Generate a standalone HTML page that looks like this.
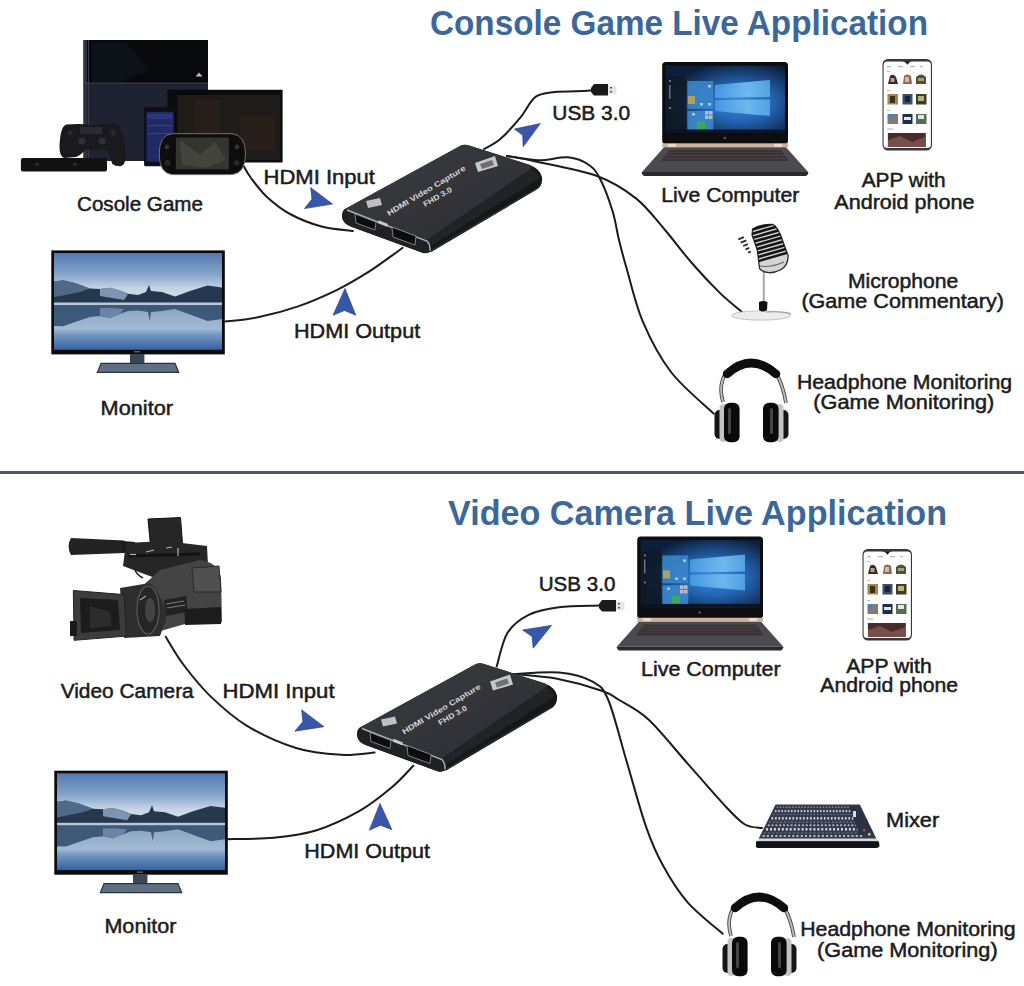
<!DOCTYPE html>
<html><head><meta charset="utf-8">
<style>
html,body{margin:0;padding:0;background:#fff;}
body{width:1024px;height:986px;overflow:hidden;}
svg{display:block;}
text{font-family:"Liberation Sans",sans-serif;}
.t{font-size:35.5px;font-weight:bold;fill:#3b679b;}
.l text{font-size:20px;fill:#1c1c1c;stroke:#1c1c1c;stroke-width:0.5px;}
.cab{fill:none;stroke:#1c1c1c;stroke-width:2;stroke-linecap:round;}
.arr{fill:#3857ab;stroke:#2c3f8c;stroke-width:0.7px;stroke-linejoin:round;}
</style></head><body>
<svg width="1024" height="986" viewBox="0 0 1024 986">
<defs>
<linearGradient id="sky" x1="0" y1="0" x2="0" y2="1">
 <stop offset="0" stop-color="#5279b0"/><stop offset="0.45" stop-color="#88a6cc"/><stop offset="0.7" stop-color="#c4d3e4"/><stop offset="1" stop-color="#dfe3ea"/>
</linearGradient>
<linearGradient id="water" x1="0" y1="0" x2="0" y2="1">
 <stop offset="0" stop-color="#b4c6da"/><stop offset="0.1" stop-color="#8aa4c2"/><stop offset="0.55" stop-color="#a2bad4"/><stop offset="0.7" stop-color="#6f94bf"/><stop offset="1" stop-color="#3562a0"/>
</linearGradient>
<radialGradient id="win" cx="0.62" cy="0.55" r="0.62">
 <stop offset="0" stop-color="#3c8ee0"/><stop offset="0.45" stop-color="#2363b0"/><stop offset="1" stop-color="#0c1e3a"/>
</radialGradient>
<linearGradient id="logo" x1="0" y1="0" x2="1" y2="0">
 <stop offset="0" stop-color="#4aa0e8"/><stop offset="0.6" stop-color="#7cc4f6"/><stop offset="1" stop-color="#5aaeee"/>
</linearGradient>
<linearGradient id="cardtop" x1="0" y1="0" x2="1" y2="1">
 <stop offset="0" stop-color="#3c3d42"/><stop offset="1" stop-color="#2c2d31"/>
</linearGradient>
</defs>
<rect width="1024" height="986" fill="#fff"/>
<!-- cables -->
<path class="cab" d="M243.4,165.6 C244.7,167.7 247.1,172.8 251.0,178.0 C254.9,183.2 260.5,191.0 267.0,197.0 C273.5,203.0 280.9,209.1 290.0,214.0 C299.1,218.9 311.0,223.7 321.5,226.5 C332.0,229.3 347.6,230.2 352.8,231.0"/>
<path class="cab" d="M224.9,321.6 C230.6,320.9 246.8,319.6 259.0,317.1 C271.2,314.6 285.1,310.9 298.1,306.4 C311.1,301.8 325.8,295.3 337.2,289.8 C348.6,284.3 357.4,278.9 366.5,273.2 C375.6,267.5 385.9,259.8 391.9,255.6 C397.9,251.4 400.8,249.1 402.6,247.8"/>
<path class="cab" d="M484.0,149.0 C486.7,147.4 493.9,144.6 500.0,139.3 C506.1,134.0 514.6,124.5 520.5,117.4 C526.4,110.3 529.8,101.1 535.5,96.9 C541.2,92.7 546.0,93.0 554.7,92.0 C563.4,91.0 581.3,91.3 587.5,90.8 C593.7,90.3 591.2,89.3 592.0,89.0"/>
<path class="cab" d="M507.0,156.0 C512.3,156.7 528.4,160.1 538.6,160.3 C548.8,160.5 559.5,156.5 568.0,157.3 C576.5,158.1 583.9,161.3 589.4,165.2 C594.9,169.1 597.1,173.0 601.0,180.8 C604.9,188.6 609.8,202.1 612.8,212.0 C615.8,221.9 616.7,230.7 619.0,240.0 C621.3,249.3 622.5,254.4 626.5,268.0 C630.5,281.6 635.3,304.0 642.7,321.3 C650.1,338.6 659.2,356.6 671.0,372.0 C682.8,387.4 706.6,406.7 713.7,413.6"/>
<path class="cab" d="M507.0,156.0 C511.6,156.9 519.7,157.9 534.7,161.2 C549.7,164.6 580.1,169.8 597.0,176.0 C613.9,182.2 624.7,189.4 636.0,198.4 C647.3,207.4 655.8,219.3 665.0,230.0 C674.2,240.7 682.3,252.0 691.4,262.5 C700.5,273.0 711.4,284.6 719.8,292.9 C728.2,301.1 738.3,308.8 742.0,312.0"/>
<path class="cab" d="M165.7,636.8 C168.7,641.5 176.2,655.1 183.7,665.0 C191.2,674.9 200.1,686.3 210.6,696.4 C221.1,706.5 232.4,717.0 246.6,725.6 C260.8,734.2 280.3,743.1 296.0,748.0 C311.7,752.9 327.9,754.0 341.0,754.8 C354.1,755.5 369.0,752.9 374.6,752.5"/>
<path class="cab" d="M226.4,839.2 C234.3,839.0 258.6,839.2 273.7,837.7 C288.8,836.2 302.4,834.7 316.7,830.2 C331.0,825.7 347.1,818.0 359.6,810.9 C372.1,803.8 382.9,794.8 391.9,787.3 C400.8,779.8 409.7,769.4 413.3,765.8"/>
<path class="cab" d="M496.7,666.5 C498.5,660.9 502.1,641.6 507.4,633.0 C512.7,624.4 520.1,619.1 528.7,614.8 C537.3,610.5 547.3,608.7 559.0,607.2 C570.7,605.7 592.3,605.9 599.0,605.6"/>
<path class="cab" d="M513.5,674.0 C521.1,673.8 545.8,671.3 559.0,672.6 C572.2,673.9 584.4,677.1 592.6,681.7 C600.8,686.3 602.6,686.8 608.3,700.0 C613.9,713.2 620.2,739.8 626.5,760.9 C632.8,782.0 639.9,809.1 646.0,826.6 C652.1,844.1 656.1,853.0 663.0,865.6 C669.9,878.2 677.4,890.7 687.4,902.1 C697.4,913.5 716.8,928.5 722.7,933.8"/>
<path class="cab" d="M513.5,674.0 C520.6,674.8 541.3,675.8 556.0,678.6 C570.7,681.4 591.2,687.2 601.7,690.8 C612.2,694.4 611.4,695.2 619.2,700.0 C627.0,704.8 637.1,709.0 648.5,719.5 C659.9,730.0 674.4,748.7 687.4,763.3 C700.4,777.9 716.8,797.0 726.4,807.2 C736.0,817.4 739.1,821.0 745.0,824.5 C750.9,828.0 759.2,827.4 762.0,828.0"/>
<!-- arrows -->
<path class="arr" d="M332.5,204.0 L310.6,187.5 L312.0,199.1 L304.4,208.6 Z"/>
<path class="arr" d="M345.0,288.5 L333.0,315.3 L344.5,310.5 L355.8,315.3 Z"/>
<path class="arr" d="M540.3,123.6 L514.4,129.0 L522.7,135.3 L523.2,146.8 Z"/>
<path class="arr" d="M324.0,726.7 L301.6,709.8 L302.9,721.6 L294.9,731.2 Z"/>
<path class="arr" d="M380.0,803.4 L369.3,830.2 L380.5,825.2 L391.9,829.8 Z"/>
<path class="arr" d="M551.5,625.4 L522.6,630.0 L532.1,636.6 L533.2,648.2 Z"/>
<!-- usb plugs -->
<g id="usb"><path d="M591,88 L594,84 L608,84 L608,95.5 L594,95.5 L591,92 Z" fill="#1a1a1a"/>
<rect x="608" y="85.5" width="8.5" height="8.5" fill="#e6e6e6"/><rect x="610" y="87" width="2" height="1.5" fill="#555"/><rect x="610" y="91" width="2" height="1.5" fill="#555"/></g>
<use href="#usb" transform="translate(8,516)"/>
<g id="consoles">
 <!-- PS4 -->
 <rect x="83.5" y="40" width="124.5" height="44" fill="#08090c"/>
 <path d="M92,42 L125,42 L150,70 L120,82 L92,82 Z" fill="#142024" opacity="0.45"/>
 <rect x="83.5" y="83" width="124.5" height="78" fill="#1f2230"/>
 <rect x="83.5" y="40" width="3.5" height="121" fill="#2e323c"/>
 <rect x="88" y="40" width="1" height="121" fill="#3c404a"/>
 <rect x="83.5" y="82.5" width="124.5" height="1.2" fill="#3a3e4a"/>
 <path d="M195.5,76.5 L202.5,76.5 L199,72.5 Z" fill="#bbb"/>
 <!-- tablet -->
 <rect x="167.5" y="89.8" width="115.1" height="72.7" fill="#0b0b0d"/>
 <rect x="177.4" y="95.1" width="102.9" height="65.1" fill="#1f1b19"/>
 <rect x="195" y="100" width="25" height="55" fill="#28211d" opacity="0.8"/>
 <rect x="240" y="115" width="35" height="35" fill="#2a201c" opacity="0.8"/>
 <!-- blue phone -->
 <rect x="144.1" y="107.2" width="31" height="59.1" rx="1.5" fill="#0e0e16"/>
 <rect x="146.4" y="111.8" width="27.2" height="49.9" fill="#222a66"/>
 <rect x="147.4" y="114" width="25" height="5" fill="#354096" opacity="0.5"/>
 <rect x="147.4" y="125" width="25" height="1" fill="#4a56b0" opacity="0.5"/>
 <rect x="147.4" y="133" width="25" height="1" fill="#4a56b0" opacity="0.5"/>
 <!-- Vita -->
 <path d="M172,133.7 L232,133.7 Q245.5,135 245.5,154 Q245.5,173 232,174.6 L172,174.6 Q159.2,173 159.2,154 Q159.2,135 172,133.7 Z" fill="#0d0d0e" stroke="#707072" stroke-width="1"/>
 <rect x="175.9" y="137.5" width="53" height="31.8" fill="#34352f"/>
 <path d="M180,140 L200,155 L215,142 L226,160 L205,168 L182,165 Z" fill="#4e4e44" opacity="0.6"/>
 <circle cx="167" cy="147" r="2.4" fill="#333"/>
 <circle cx="237" cy="147" r="2.4" fill="#333"/>
 <circle cx="167.5" cy="163" r="3" fill="#262626"/>
 <circle cx="236.5" cy="163" r="3" fill="#262626"/>
 <!-- controller -->
 <path d="M66.6,124.6 Q80,123 92.3,125.2 Q104,123 115.8,123.5 Q119.5,125 120.5,128.8 Q125,140 125.7,154.5 Q126,165 120.5,166.3 Q115,166 112.3,163.9 L107.6,149.8 L85.3,149.8 Q80,156 75.9,156.9 L64.2,158 Q59,156 59.5,145.2 Q60,135 61.9,130 Q63,126 66.6,124.6 Z" fill="#1a1a1e"/>
 <rect x="80" y="127" width="22" height="7" rx="1" fill="#2a2a30"/>
 <circle cx="82" cy="141" r="3.4" fill="#303036"/>
 <circle cx="102" cy="141" r="3.4" fill="#303036"/>
 <circle cx="70" cy="133" r="2.5" fill="#2a2a30"/>
 <circle cx="113" cy="133" r="2.5" fill="#2a2a30"/>
 <!-- camera bar -->
 <rect x="20.9" y="158" width="86.1" height="13.5" rx="2" fill="#111113"/>
 <circle cx="37" cy="164.5" r="2" fill="#2a2a2e"/><circle cx="75" cy="164.5" r="2" fill="#2a2a2e"/>
</g>
<g id="mon">
 <rect x="51.3" y="250.4" width="173.5" height="104" fill="#0b0b0e"/>
 <rect x="54" y="253" width="168" height="50" fill="url(#sky)"/>
 <rect x="54" y="302.5" width="168" height="47.3" fill="url(#water)"/>
 <!-- mountains -->
 <path d="M54,281.5 L63,280.2 L75,283 L90,288.4 L100,289 L110,287.8 L120,290.5 L128,293.8 L138,295 L146,292 L149,285 L151,291 L162,292 L175,296.5 L190,291 L207.6,285.6 L222,287.5 L222,303 L54,303 Z" fill="#26384f"/>
 <path d="M54,281.5 L63,280.2 L75,283 L90,288.4 L80,292 L60,296 L54,297 Z" fill="#5d7696" opacity="0.8"/>
 <path d="M100,289 L110,287.8 L120,290.5 L128,294 L124,300 L112,298 L100,296 Z" fill="#8ea6c2" opacity="0.85"/>
 <rect x="54" y="302.5" width="168" height="2.6" fill="#b8c8da"/>
 <!-- reflection -->
 <path d="M54,305 L222,305 L222,319 L207.6,320.9 L190,314.5 L175,309 L162,311 L151,312 L149.8,321 L148,312 L138,310.5 L128,311 L120,314 L110,318 L100,316 L90,317 L75,322 L63,326.3 L54,326 Z" fill="#33506f" opacity="0.9"/>
 <path d="M100,308 L112,308 L124,309 L120,314 L110,318 L100,316 Z" fill="#7690b0" opacity="0.8"/>
 <!-- stand -->
 <rect x="130" y="354" width="14.4" height="10" fill="#3a4654"/>
 <path d="M101,363.3 L175,363.3 L178.7,372.4 L97.4,372.4 Z" fill="#5d6f80" stroke="#2a3440" stroke-width="1.2"/>
 <rect x="134" y="351.3" width="6" height="1" fill="#888"/>
</g>
<use href="#mon" transform="translate(3,520.3)"/>
<g id="card">
 <!-- body / side face -->
 <path d="M345,209 L461,145.5 Q465,144 469,145.5 L530,165 Q540,169 542,177 Q543,186 536,190 L432,251.5 Q426,254 421,252 L352,227 Q343,224 342,217 Q342,211 345,209 Z" fill="#161719"/>
 <!-- top face -->
 <path d="M345,209 L461,145.5 Q465,144 469,145.5 L530,165 Q534,167 531,169 L427,240 Z" fill="url(#cardtop)"/>
 <!-- rounded side shading -->
 <path d="M427,240 L531,169 Q538,172 540,178 L431,246 Z" fill="#222327"/>
 <path d="M432,250 L536,189" stroke="#2e2f33" stroke-width="1.2"/>
 <!-- front face -->
 <path d="M345,209 L427,240 Q431,244 430,251 Q428,254 423,253 L352,227 Q343,224 342,217 Q342,211 345,209 Z" fill="#202124"/>
 <!-- silver rim -->
 <path d="M347,210 L427,241 Q430.5,245 430,251" fill="none" stroke="#b0b2b6" stroke-width="1.4"/>
 <!-- ports -->
 <path d="M355,214 L376,222 L375,230 L356,223 Z" fill="#0c0c0d" stroke="#8a8c90" stroke-width="0.9"/>
 <path d="M392,227 L416,236 L415,245 L393,237 Z" fill="#0c0c0d" stroke="#8a8c90" stroke-width="0.9"/>
 <rect x="378" y="222" width="10" height="3" fill="#c8c8c8" transform="rotate(22 383 223)"/>
 <!-- logos/text on top -->
 <path d="M366,201 L380,198 L382,205 L368,208 Z" fill="#d8d8d8" opacity="0.85"/>
 <path d="M475,163 L495,156 L498,166 L478,172 Z" fill="#e0e0e0" opacity="0.85"/>
 <path d="M480,164 L492,160 L494,165 L482,169 Z" fill="#333" opacity="0.6"/>
 <text x="389" y="216" transform="rotate(-31 389 216)" font-size="7.5" font-weight="bold" fill="#d6d6d6" textLength="90" lengthAdjust="spacingAndGlyphs" style="font-family:'Liberation Sans',sans-serif">HDMI Video Capture</text>
 <text x="425" y="207" transform="rotate(-30 425 207)" font-size="7.5" font-weight="bold" fill="#d6d6d6" textLength="32" lengthAdjust="spacingAndGlyphs" style="font-family:'Liberation Sans',sans-serif">FHD 3.0</text>
</g>
<use href="#card" transform="translate(15,518.5)"/>
<g id="lap">
 <rect x="662.2" y="62" width="125.8" height="82" rx="3.5" fill="#0d0d10"/>
 <rect x="665.7" y="65.7" width="119.3" height="67.3" fill="url(#win)"/>
 <rect x="667" y="76.5" width="19.7" height="53" fill="#111a26" opacity="0.85"/>
 <g fill="#8a9ab0" opacity="0.7"><rect x="669" y="80" width="2" height="2"/><rect x="669" y="85" width="1.5" height="14"/><rect x="669" y="107" width="2" height="2"/></g>
 <rect x="687.3" y="81" width="26" height="27.9" fill="#3a86c8" opacity="0.9"/>
 <rect x="687.3" y="110.8" width="26" height="19" fill="#3c88cc" opacity="0.9"/>
 <rect x="696.8" y="121" width="8.2" height="8.2" fill="#3aa860"/>
 <rect x="688" y="96" width="7" height="8" fill="#b0a060"/>
 <g fill="#e0c8d0" opacity="0.8"><rect x="705" y="111" width="3.5" height="3.5"/><rect x="709" y="111" width="3.5" height="3.5"/><rect x="705" y="115.5" width="3.5" height="3.5"/><rect x="709" y="115.5" width="3.5" height="3.5"/></g>
 <g fill="#cfe6ff" opacity="0.7"><rect x="708" y="85" width="3" height="2.5"/><rect x="700" y="103" width="3" height="2.5"/><rect x="708" y="103" width="3" height="2.5"/><rect x="692" y="113" width="3" height="2.5"/></g>
 <path d="M715,85 L770,80 L770,97 L715,98 Z" fill="url(#logo)" opacity="0.85"/>
 <path d="M715,100 L770,99.5 L770,116 L715,111 Z" fill="url(#logo)" opacity="0.8"/>
 <rect x="665.7" y="129.5" width="119.3" height="3.5" fill="#0a1424"/>
 <rect x="723.5" y="136.8" width="2.5" height="2.5" rx="1.2" fill="#5a5a5a"/>
 <rect x="662.2" y="143.3" width="125.8" height="4" fill="#cdb49c"/>
 <rect x="668" y="143.8" width="8" height="3" fill="#e8dcd0"/><rect x="774" y="143.8" width="8" height="3" fill="#e8dcd0"/>
 <path d="M664,147.3 L786,147.3 L808.1,172 L642,172 Z" fill="#4a4a50"/>
 <path d="M669,150 L781,150 L789,161 L661,161 Z" fill="#3a3436"/>
 <g stroke="#55484a" stroke-width="0.7" opacity="0.8"><path d="M668,152.5 L782,152.5"/><path d="M666,155.5 L785,155.5"/><path d="M664,158.5 L787,158.5"/></g>
 <path d="M642,172 L808.1,172 Q809,174 806,176 L644,176 Q641,174 642,172 Z" fill="#2a2a2e"/>
</g>
<use href="#lap" transform="translate(-25,474.4)"/>
<g id="ph">
 <rect x="882.5" y="59" width="49.5" height="91.5" rx="5.5" fill="#38383c"/>
 <rect x="883.6" y="61.5" width="47.3" height="86.5" rx="3.5" fill="#fdfdfd"/>
 <path d="M901,61.2 L913,61.2 Q909,61.5 907.5,64.8 Q906,61.5 901,61.2 Z" fill="#111"/>
 <g fill="#b8b8b8"><rect x="887" y="66" width="4" height="1.2"/><rect x="898" y="66" width="5" height="1.2"/><rect x="910" y="66" width="5" height="1.2"/><rect x="920" y="66" width="3" height="1.2"/>
 <rect x="887" y="71" width="3" height="1"/><rect x="887" y="90" width="3" height="1"/><rect x="887" y="110" width="3" height="1"/><rect x="887" y="128.5" width="6" height="1.2"/></g>
 <!-- row1 -->
 <path d="M888,84 L890,76 Q893,73 896,77 L898,84 Z" fill="#3a2a24"/><rect x="890.5" y="78" width="4" height="4" fill="#c09a88"/>
 <path d="M903,84 L904,76 Q907,73 911,76 L912,84 Z" fill="#8a6a5a"/><rect x="905" y="77" width="4" height="5" fill="#d8b8a8"/>
 <path d="M916,84 L916,77 Q921,72 926,77 L926,84 Z" fill="#50503a"/><rect x="918" y="78" width="6" height="3" fill="#a8a070"/>
 <!-- row2 -->
 <rect x="887.5" y="94" width="10.5" height="10.5" fill="#a08848"/><rect x="890" y="96" width="5" height="7" fill="#3a3020"/>
 <rect x="902.5" y="94" width="10" height="10.5" fill="#3c4e66"/><rect x="905" y="96" width="5" height="6" fill="#1a2436"/>
 <rect x="916" y="94" width="10.5" height="10.5" fill="#3e3e28"/><rect x="918" y="96" width="6" height="5" fill="#b8b080"/>
 <!-- row3 -->
 <rect x="887.5" y="114" width="10.5" height="10" fill="#8a7868"/><rect x="888" y="114" width="5" height="5" fill="#5a80a8"/>
 <rect x="902.5" y="114" width="10" height="10" fill="#1e2e46"/><rect x="904" y="117" width="7" height="3" fill="#e0e8f0"/>
 <rect x="916" y="114" width="10.5" height="10" fill="#5a6a58"/><rect x="918" y="115" width="6" height="4" fill="#e0eae0"/>
 <rect x="887.9" y="133" width="37.9" height="14" fill="#4a2a2a"/>
 <path d="M888,140 L900,136 L912,142 L925,137 L925,147 L888,147 Z" fill="#8a6058" opacity="0.7"/>
</g>
<use href="#ph" transform="translate(-20,490)"/>
<g id="mic">
 <clipPath id="mhc"><path d="M752.6,229 Q760,224 772.5,224.3 Q778,226 783,241.8 L788.2,255.8 Q788,266 780.6,269.8 Q775,273 769,272.7 Q762,272 759.6,268.6 L757.3,250 L752,234.8 Z"/></clipPath>
 <ellipse cx="761" cy="315.5" rx="29.5" ry="4.6" fill="#ececec" stroke="#bdbdbd" stroke-width="0.9"/>
 <path d="M766,312 Q785,311 791,314" fill="none" stroke="#9a9a9a" stroke-width="1.2"/>
 <rect x="762.8" y="272" width="2" height="30" fill="#a8a8a8"/>
 <path d="M759,302 Q763,300 767.5,302 L767,310 Q763,313 759,310 Z" fill="#111"/>
 <path d="M752.6,229 Q760,224 772.5,224.3 Q778,226 783,241.8 L788.2,255.8 Q788,266 780.6,269.8 Q775,273 769,272.7 Q762,272 759.6,268.6 L757.3,250 L752,234.8 Z" fill="#d4d4d4" stroke="#2a2a2a" stroke-width="1.3"/>
 <g clip-path="url(#mhc)" fill="#141414">
  <g transform="rotate(-16 770 245)">
   <rect x="740" y="224" width="60" height="2.6"/><rect x="740" y="228" width="60" height="2.6"/><rect x="740" y="232" width="60" height="2.6"/>
   <rect x="740" y="236" width="60" height="2.6"/><rect x="740" y="240" width="60" height="2.6"/><rect x="740" y="244" width="60" height="2.6"/>
   <rect x="740" y="248" width="60" height="2.6"/><rect x="740" y="252" width="60" height="2.6"/><rect x="740" y="256" width="60" height="2.4"/>
  </g>
  <path d="M760,266 Q770,268 784,262" fill="none" stroke="#666" stroke-width="1.2"/>
 </g>
 <g fill="#2a2a2a" transform="rotate(-22 746 245)">
  <rect x="741" y="236" width="6" height="1.8"/><rect x="742" y="240" width="6" height="1.8"/><rect x="743" y="244" width="5" height="1.8"/><rect x="744" y="248" width="4" height="1.8"/><rect x="745" y="252" width="3" height="1.8"/>
 </g>
</g>
<g id="hp">
 <path d="M723,402 Q718,385 726,373 M776,373 Q783,385 786,403" fill="none" stroke="#3a3a3a" stroke-width="3.6"/>
 <path d="M723,402 Q718,385 726,373 M776,373 Q783,385 786,403" fill="none" stroke="#bdbdbd" stroke-width="2"/>
 <path d="M727,374 Q751,352 776,374" fill="none" stroke="#0d0d0d" stroke-width="8.5" stroke-linecap="round"/>
 <!-- left cup -->
 <rect x="714.5" y="410" width="12" height="29" rx="5" fill="#151515"/>
 <rect x="719.5" y="404" width="8" height="38" rx="4" fill="#c4c4c4"/>
 <rect x="724" y="402.7" width="15.6" height="39.6" rx="6" fill="#0a0a0a"/>
 <rect x="728" y="408" width="3" height="26" rx="1.5" fill="#444"/>
 <!-- right cup -->
 <rect x="777" y="410" width="11.5" height="29" rx="5" fill="#151515"/>
 <rect x="775.5" y="404" width="8" height="38" rx="4" fill="#c4c4c4"/>
 <rect x="763" y="402.7" width="15.6" height="39.6" rx="6" fill="#0a0a0a"/>
 <rect x="770" y="408" width="3" height="26" rx="1.5" fill="#444"/>
</g>
<use href="#hp" transform="translate(8,534)"/>
<g id="cam">
 <!-- shotgun mic -->
 <path d="M71,538 L124,540.5 Q129,547 125,553 L71,555 Q66,546 71,538 Z" fill="#232323"/>
 <path d="M122,541 L135,542 L135,552 L122,553 Z" fill="#1a1a1a"/>
 <!-- LCD -->
 <path d="M148,519 L180.5,517.6 L182.5,544 L150.5,545.7 Z" fill="#262626" stroke="#111" stroke-width="1"/>
 <!-- handle -->
 <path d="M126,543 L165,541 L207,546 L208,566 L185,570 L170,574 L155,578 L123,566 Z" fill="#262626"/>
 <path d="M128,556 L200,554" stroke="#141414" stroke-width="3"/>
 <g stroke="#d8d8d8" stroke-width="1.2" opacity="0.8"><path d="M130,554.5 L136,554.5"/><path d="M146,552 L154,550"/><path d="M166,548 L172,547"/><path d="M178,548 L178,556"/></g>
 <path d="M135,570 Q137,575 143,578" fill="none" stroke="#222" stroke-width="1.5"/>
 <!-- main body -->
 <path d="M160,570 L200,560 Q218,562 221,578 L222,622 L185,624 L150,634 L138,590 Z" fill="#444"/>
 <path d="M192,568 L219,566 L221,592 L194,592 Z" fill="#505050" stroke="#2a2a2a" stroke-width="1"/>
 <path d="M164,600 L186,596 L188,612 L166,616 Z" fill="#222"/>
 <g stroke="#888" stroke-width="0.9"><path d="M166,604 L184,601"/><path d="M167,608 L185,605"/></g>
 <!-- shoulder pad -->
 <path d="M184.5,609 L221,607 L221,624 L185,625 Z" fill="#1c1c1c"/>
 <!-- lens barrel -->
 <path d="M120,588 L150,583 Q166,600 166,620 L160,636 L124,638 Z" fill="#2e2e2e"/>
 <ellipse cx="148" cy="610" rx="11" ry="24" fill="#262626" stroke="#5a5a5a" stroke-width="1.2"/>
 <ellipse cx="150" cy="610" rx="5" ry="12" fill="#444"/>
 <path d="M140,600 L146,596" stroke="#ccc" stroke-width="1"/>
 <!-- lens hood -->
 <path d="M73.3,590.5 L123.9,594.6 L126.4,636.1 L74.1,640.3 Z" fill="#3c3c3c" stroke="#222" stroke-width="1"/>
 <path d="M80,598 L118,600 L120,630 L81,633 Z" fill="#1c1c1c"/>
 <path d="M90,606 L110,612 L112,626 L90,628 Z" fill="#2c2c2c"/>
 <rect x="70" y="621" width="7" height="15" fill="#1a1a1a"/>
</g>
<g id="mix">
<path d="M775.5,804.6 L859.8,804.6 L878,842 L757,842 Z" fill="#343a4c"/>
<rect x="776.7" y="806.5" width="1.5" height="1.4" fill="#8c94a4" opacity="0.90"/>
<rect x="779.7" y="806.5" width="1.5" height="1.4" fill="#8c94a4" opacity="0.90"/>
<rect x="782.8" y="806.5" width="1.5" height="1.4" fill="#8c94a4" opacity="0.90"/>
<rect x="785.9" y="806.5" width="1.5" height="1.4" fill="#8c94a4" opacity="0.90"/>
<rect x="788.9" y="806.5" width="1.5" height="1.4" fill="#8c94a4" opacity="0.90"/>
<rect x="792.0" y="806.5" width="1.5" height="1.4" fill="#8c94a4" opacity="0.90"/>
<rect x="795.1" y="806.5" width="1.5" height="1.4" fill="#8c94a4" opacity="0.90"/>
<rect x="798.1" y="806.5" width="1.5" height="1.4" fill="#8c94a4" opacity="0.90"/>
<rect x="801.2" y="806.5" width="1.5" height="1.4" fill="#8c94a4" opacity="0.90"/>
<rect x="804.3" y="806.5" width="1.5" height="1.4" fill="#8c94a4" opacity="0.90"/>
<rect x="807.4" y="806.5" width="1.5" height="1.4" fill="#8c94a4" opacity="0.90"/>
<rect x="810.4" y="806.5" width="1.5" height="1.4" fill="#8c94a4" opacity="0.90"/>
<rect x="813.5" y="806.5" width="1.5" height="1.4" fill="#8c94a4" opacity="0.90"/>
<rect x="816.6" y="806.5" width="1.5" height="1.4" fill="#8c94a4" opacity="0.90"/>
<rect x="819.6" y="806.5" width="1.5" height="1.4" fill="#8c94a4" opacity="0.90"/>
<rect x="822.7" y="806.5" width="1.5" height="1.4" fill="#8c94a4" opacity="0.90"/>
<rect x="825.8" y="806.5" width="1.5" height="1.4" fill="#8c94a4" opacity="0.90"/>
<rect x="828.8" y="806.5" width="1.5" height="1.4" fill="#8c94a4" opacity="0.90"/>
<rect x="831.9" y="806.5" width="1.5" height="1.4" fill="#8c94a4" opacity="0.90"/>
<rect x="835.0" y="806.5" width="1.5" height="1.4" fill="#8c94a4" opacity="0.90"/>
<rect x="838.0" y="806.5" width="1.5" height="1.4" fill="#8c94a4" opacity="0.90"/>
<rect x="841.1" y="806.5" width="1.5" height="1.4" fill="#8c94a4" opacity="0.90"/>
<rect x="844.2" y="806.5" width="1.5" height="1.4" fill="#8c94a4" opacity="0.90"/>
<rect x="847.3" y="806.5" width="1.5" height="1.4" fill="#8c94a4" opacity="0.90"/>
<rect x="774.9" y="810.0" width="1.6" height="2.2" fill="#d4d9e0" opacity="0.90"/>
<rect x="778.1" y="810.0" width="1.6" height="2.2" fill="#d4d9e0" opacity="0.90"/>
<rect x="781.4" y="810.0" width="1.6" height="2.2" fill="#d4d9e0" opacity="0.90"/>
<rect x="784.6" y="810.0" width="1.6" height="2.2" fill="#d4d9e0" opacity="0.90"/>
<rect x="787.8" y="810.0" width="1.6" height="2.2" fill="#d4d9e0" opacity="0.90"/>
<rect x="791.0" y="810.0" width="1.6" height="2.2" fill="#d4d9e0" opacity="0.90"/>
<rect x="794.2" y="810.0" width="1.6" height="2.2" fill="#d4d9e0" opacity="0.90"/>
<rect x="797.4" y="810.0" width="1.6" height="2.2" fill="#d4d9e0" opacity="0.90"/>
<rect x="800.6" y="810.0" width="1.6" height="2.2" fill="#d4d9e0" opacity="0.90"/>
<rect x="803.8" y="810.0" width="1.6" height="2.2" fill="#d4d9e0" opacity="0.90"/>
<rect x="807.1" y="810.0" width="1.6" height="2.2" fill="#d4d9e0" opacity="0.90"/>
<rect x="810.3" y="810.0" width="1.6" height="2.2" fill="#d4d9e0" opacity="0.90"/>
<rect x="813.5" y="810.0" width="1.6" height="2.2" fill="#d4d9e0" opacity="0.90"/>
<rect x="816.7" y="810.0" width="1.6" height="2.2" fill="#d4d9e0" opacity="0.90"/>
<rect x="819.9" y="810.0" width="1.6" height="2.2" fill="#d4d9e0" opacity="0.90"/>
<rect x="823.1" y="810.0" width="1.6" height="2.2" fill="#d4d9e0" opacity="0.90"/>
<rect x="826.3" y="810.0" width="1.6" height="2.2" fill="#d4d9e0" opacity="0.90"/>
<rect x="829.5" y="810.0" width="1.6" height="2.2" fill="#d4d9e0" opacity="0.90"/>
<rect x="832.8" y="810.0" width="1.6" height="2.2" fill="#d4d9e0" opacity="0.90"/>
<rect x="836.0" y="810.0" width="1.6" height="2.2" fill="#d4d9e0" opacity="0.90"/>
<rect x="839.2" y="810.0" width="1.6" height="2.2" fill="#d4d9e0" opacity="0.90"/>
<rect x="842.4" y="810.0" width="1.6" height="2.2" fill="#d4d9e0" opacity="0.90"/>
<rect x="845.6" y="810.0" width="1.6" height="2.2" fill="#d4d9e0" opacity="0.90"/>
<rect x="848.8" y="810.0" width="1.6" height="2.2" fill="#d4d9e0" opacity="0.90"/>
<rect x="773.0" y="814.0" width="1.7" height="1.0" fill="#7d8596" opacity="0.80"/>
<rect x="776.3" y="814.0" width="1.7" height="1.0" fill="#7d8596" opacity="0.80"/>
<rect x="779.7" y="814.0" width="1.7" height="1.0" fill="#7d8596" opacity="0.80"/>
<rect x="783.1" y="814.0" width="1.7" height="1.0" fill="#7d8596" opacity="0.80"/>
<rect x="786.5" y="814.0" width="1.7" height="1.0" fill="#7d8596" opacity="0.80"/>
<rect x="789.8" y="814.0" width="1.7" height="1.0" fill="#7d8596" opacity="0.80"/>
<rect x="793.2" y="814.0" width="1.7" height="1.0" fill="#7d8596" opacity="0.80"/>
<rect x="796.6" y="814.0" width="1.7" height="1.0" fill="#7d8596" opacity="0.80"/>
<rect x="800.0" y="814.0" width="1.7" height="1.0" fill="#7d8596" opacity="0.80"/>
<rect x="803.3" y="814.0" width="1.7" height="1.0" fill="#7d8596" opacity="0.80"/>
<rect x="806.7" y="814.0" width="1.7" height="1.0" fill="#7d8596" opacity="0.80"/>
<rect x="810.1" y="814.0" width="1.7" height="1.0" fill="#7d8596" opacity="0.80"/>
<rect x="813.5" y="814.0" width="1.7" height="1.0" fill="#7d8596" opacity="0.80"/>
<rect x="816.8" y="814.0" width="1.7" height="1.0" fill="#7d8596" opacity="0.80"/>
<rect x="820.2" y="814.0" width="1.7" height="1.0" fill="#7d8596" opacity="0.80"/>
<rect x="823.6" y="814.0" width="1.7" height="1.0" fill="#7d8596" opacity="0.80"/>
<rect x="827.0" y="814.0" width="1.7" height="1.0" fill="#7d8596" opacity="0.80"/>
<rect x="830.3" y="814.0" width="1.7" height="1.0" fill="#7d8596" opacity="0.80"/>
<rect x="833.7" y="814.0" width="1.7" height="1.0" fill="#7d8596" opacity="0.80"/>
<rect x="837.1" y="814.0" width="1.7" height="1.0" fill="#7d8596" opacity="0.80"/>
<rect x="840.5" y="814.0" width="1.7" height="1.0" fill="#7d8596" opacity="0.80"/>
<rect x="843.8" y="814.0" width="1.7" height="1.0" fill="#7d8596" opacity="0.80"/>
<rect x="847.2" y="814.0" width="1.7" height="1.0" fill="#7d8596" opacity="0.80"/>
<rect x="850.6" y="814.0" width="1.7" height="1.0" fill="#7d8596" opacity="0.80"/>
<rect x="771.5" y="817.0" width="1.7" height="2.6" fill="#dde2e8" opacity="0.90"/>
<rect x="775.0" y="817.0" width="1.7" height="2.6" fill="#dde2e8" opacity="0.90"/>
<rect x="778.5" y="817.0" width="1.7" height="2.6" fill="#dde2e8" opacity="0.90"/>
<rect x="782.0" y="817.0" width="1.7" height="2.6" fill="#dde2e8" opacity="0.90"/>
<rect x="785.5" y="817.0" width="1.7" height="2.6" fill="#dde2e8" opacity="0.90"/>
<rect x="789.0" y="817.0" width="1.7" height="2.6" fill="#dde2e8" opacity="0.90"/>
<rect x="792.5" y="817.0" width="1.7" height="2.6" fill="#dde2e8" opacity="0.90"/>
<rect x="796.0" y="817.0" width="1.7" height="2.6" fill="#dde2e8" opacity="0.90"/>
<rect x="799.5" y="817.0" width="1.7" height="2.6" fill="#dde2e8" opacity="0.90"/>
<rect x="803.0" y="817.0" width="1.7" height="2.6" fill="#dde2e8" opacity="0.90"/>
<rect x="806.5" y="817.0" width="1.7" height="2.6" fill="#dde2e8" opacity="0.90"/>
<rect x="810.0" y="817.0" width="1.7" height="2.6" fill="#dde2e8" opacity="0.90"/>
<rect x="813.5" y="817.0" width="1.7" height="2.6" fill="#dde2e8" opacity="0.90"/>
<rect x="816.9" y="817.0" width="1.7" height="2.6" fill="#dde2e8" opacity="0.90"/>
<rect x="820.4" y="817.0" width="1.7" height="2.6" fill="#dde2e8" opacity="0.90"/>
<rect x="823.9" y="817.0" width="1.7" height="2.6" fill="#dde2e8" opacity="0.90"/>
<rect x="827.4" y="817.0" width="1.7" height="2.6" fill="#dde2e8" opacity="0.90"/>
<rect x="830.9" y="817.0" width="1.7" height="2.6" fill="#dde2e8" opacity="0.90"/>
<rect x="834.4" y="817.0" width="1.7" height="2.6" fill="#dde2e8" opacity="0.90"/>
<rect x="837.9" y="817.0" width="1.7" height="2.6" fill="#dde2e8" opacity="0.90"/>
<rect x="841.4" y="817.0" width="1.7" height="2.6" fill="#dde2e8" opacity="0.90"/>
<rect x="844.9" y="817.0" width="1.7" height="2.6" fill="#dde2e8" opacity="0.90"/>
<rect x="848.4" y="817.0" width="1.7" height="2.6" fill="#dde2e8" opacity="0.90"/>
<rect x="851.9" y="817.0" width="1.7" height="2.6" fill="#dde2e8" opacity="0.90"/>
<rect x="769.2" y="821.5" width="1.8" height="1.2" fill="#8a92a2" opacity="0.80"/>
<rect x="772.9" y="821.5" width="1.8" height="1.2" fill="#8a92a2" opacity="0.80"/>
<rect x="776.6" y="821.5" width="1.8" height="1.2" fill="#8a92a2" opacity="0.80"/>
<rect x="780.3" y="821.5" width="1.8" height="1.2" fill="#8a92a2" opacity="0.80"/>
<rect x="784.0" y="821.5" width="1.8" height="1.2" fill="#8a92a2" opacity="0.80"/>
<rect x="787.7" y="821.5" width="1.8" height="1.2" fill="#8a92a2" opacity="0.80"/>
<rect x="791.3" y="821.5" width="1.8" height="1.2" fill="#8a92a2" opacity="0.80"/>
<rect x="795.0" y="821.5" width="1.8" height="1.2" fill="#8a92a2" opacity="0.80"/>
<rect x="798.7" y="821.5" width="1.8" height="1.2" fill="#8a92a2" opacity="0.80"/>
<rect x="802.4" y="821.5" width="1.8" height="1.2" fill="#8a92a2" opacity="0.80"/>
<rect x="806.1" y="821.5" width="1.8" height="1.2" fill="#8a92a2" opacity="0.80"/>
<rect x="809.7" y="821.5" width="1.8" height="1.2" fill="#8a92a2" opacity="0.80"/>
<rect x="813.4" y="821.5" width="1.8" height="1.2" fill="#8a92a2" opacity="0.80"/>
<rect x="817.1" y="821.5" width="1.8" height="1.2" fill="#8a92a2" opacity="0.80"/>
<rect x="820.8" y="821.5" width="1.8" height="1.2" fill="#8a92a2" opacity="0.80"/>
<rect x="824.5" y="821.5" width="1.8" height="1.2" fill="#8a92a2" opacity="0.80"/>
<rect x="828.2" y="821.5" width="1.8" height="1.2" fill="#8a92a2" opacity="0.80"/>
<rect x="831.8" y="821.5" width="1.8" height="1.2" fill="#8a92a2" opacity="0.80"/>
<rect x="835.5" y="821.5" width="1.8" height="1.2" fill="#8a92a2" opacity="0.80"/>
<rect x="839.2" y="821.5" width="1.8" height="1.2" fill="#8a92a2" opacity="0.80"/>
<rect x="842.9" y="821.5" width="1.8" height="1.2" fill="#8a92a2" opacity="0.80"/>
<rect x="846.6" y="821.5" width="1.8" height="1.2" fill="#8a92a2" opacity="0.80"/>
<rect x="850.3" y="821.5" width="1.8" height="1.2" fill="#8a92a2" opacity="0.80"/>
<rect x="853.9" y="821.5" width="1.8" height="1.2" fill="#8a92a2" opacity="0.80"/>
<rect x="767.8" y="824.5" width="1.9" height="1.6" fill="#c8ced6" opacity="0.95"/>
<rect x="771.6" y="824.5" width="1.9" height="1.6" fill="#c8ced6" opacity="0.95"/>
<rect x="775.4" y="824.5" width="1.9" height="1.6" fill="#c8ced6" opacity="0.95"/>
<rect x="779.2" y="824.5" width="1.9" height="1.6" fill="#c8ced6" opacity="0.95"/>
<rect x="783.0" y="824.5" width="1.9" height="1.6" fill="#c8ced6" opacity="0.95"/>
<rect x="786.8" y="824.5" width="1.9" height="1.6" fill="#c8ced6" opacity="0.95"/>
<rect x="790.6" y="824.5" width="1.9" height="1.6" fill="#c8ced6" opacity="0.95"/>
<rect x="794.4" y="824.5" width="1.9" height="1.6" fill="#c8ced6" opacity="0.95"/>
<rect x="798.2" y="824.5" width="1.9" height="1.6" fill="#c8ced6" opacity="0.95"/>
<rect x="802.0" y="824.5" width="1.9" height="1.6" fill="#c8ced6" opacity="0.95"/>
<rect x="805.8" y="824.5" width="1.9" height="1.6" fill="#c8ced6" opacity="0.95"/>
<rect x="809.6" y="824.5" width="1.9" height="1.6" fill="#c8ced6" opacity="0.95"/>
<rect x="813.4" y="824.5" width="1.9" height="1.6" fill="#c8ced6" opacity="0.95"/>
<rect x="817.2" y="824.5" width="1.9" height="1.6" fill="#c8ced6" opacity="0.95"/>
<rect x="821.0" y="824.5" width="1.9" height="1.6" fill="#c8ced6" opacity="0.95"/>
<rect x="824.8" y="824.5" width="1.9" height="1.6" fill="#c8ced6" opacity="0.95"/>
<rect x="828.6" y="824.5" width="1.9" height="1.6" fill="#c8ced6" opacity="0.95"/>
<rect x="832.4" y="824.5" width="1.9" height="1.6" fill="#c8ced6" opacity="0.95"/>
<rect x="836.3" y="824.5" width="1.9" height="1.6" fill="#c8ced6" opacity="0.95"/>
<rect x="840.1" y="824.5" width="1.9" height="1.6" fill="#c8ced6" opacity="0.95"/>
<rect x="843.9" y="824.5" width="1.9" height="1.6" fill="#c8ced6" opacity="0.95"/>
<rect x="847.7" y="824.5" width="1.9" height="1.6" fill="#c8ced6" opacity="0.95"/>
<rect x="851.5" y="824.5" width="1.9" height="1.6" fill="#c8ced6" opacity="0.95"/>
<rect x="855.3" y="824.5" width="1.9" height="1.6" fill="#c8ced6" opacity="0.95"/>
<rect x="766.0" y="828.0" width="2.0" height="2.6" fill="#e0e4ea" opacity="0.90"/>
<rect x="770.0" y="828.0" width="2.0" height="2.6" fill="#e0e4ea" opacity="0.90"/>
<rect x="773.9" y="828.0" width="2.0" height="2.6" fill="#e0e4ea" opacity="0.90"/>
<rect x="777.9" y="828.0" width="2.0" height="2.6" fill="#e0e4ea" opacity="0.90"/>
<rect x="781.8" y="828.0" width="2.0" height="2.6" fill="#e0e4ea" opacity="0.90"/>
<rect x="785.8" y="828.0" width="2.0" height="2.6" fill="#e0e4ea" opacity="0.90"/>
<rect x="789.7" y="828.0" width="2.0" height="2.6" fill="#e0e4ea" opacity="0.90"/>
<rect x="793.7" y="828.0" width="2.0" height="2.6" fill="#e0e4ea" opacity="0.90"/>
<rect x="797.6" y="828.0" width="2.0" height="2.6" fill="#e0e4ea" opacity="0.90"/>
<rect x="801.6" y="828.0" width="2.0" height="2.6" fill="#e0e4ea" opacity="0.90"/>
<rect x="805.5" y="828.0" width="2.0" height="2.6" fill="#e0e4ea" opacity="0.90"/>
<rect x="809.5" y="828.0" width="2.0" height="2.6" fill="#e0e4ea" opacity="0.90"/>
<rect x="813.4" y="828.0" width="2.0" height="2.6" fill="#e0e4ea" opacity="0.90"/>
<rect x="817.4" y="828.0" width="2.0" height="2.6" fill="#e0e4ea" opacity="0.90"/>
<rect x="821.3" y="828.0" width="2.0" height="2.6" fill="#e0e4ea" opacity="0.90"/>
<rect x="825.3" y="828.0" width="2.0" height="2.6" fill="#e0e4ea" opacity="0.90"/>
<rect x="829.2" y="828.0" width="2.0" height="2.6" fill="#e0e4ea" opacity="0.90"/>
<rect x="833.1" y="828.0" width="2.0" height="2.6" fill="#e0e4ea" opacity="0.90"/>
<rect x="837.1" y="828.0" width="2.0" height="2.6" fill="#e0e4ea" opacity="0.90"/>
<rect x="841.0" y="828.0" width="2.0" height="2.6" fill="#e0e4ea" opacity="0.90"/>
<rect x="845.0" y="828.0" width="2.0" height="2.6" fill="#e0e4ea" opacity="0.90"/>
<rect x="848.9" y="828.0" width="2.0" height="2.6" fill="#e0e4ea" opacity="0.90"/>
<rect x="852.9" y="828.0" width="2.0" height="2.6" fill="#e0e4ea" opacity="0.90"/>
<rect x="856.8" y="828.0" width="2.0" height="2.6" fill="#e0e4ea" opacity="0.90"/>
<rect x="763.8" y="832.5" width="2.1" height="1.0" fill="#8a92a2" opacity="0.70"/>
<rect x="767.9" y="832.5" width="2.1" height="1.0" fill="#8a92a2" opacity="0.70"/>
<rect x="772.1" y="832.5" width="2.1" height="1.0" fill="#8a92a2" opacity="0.70"/>
<rect x="776.2" y="832.5" width="2.1" height="1.0" fill="#8a92a2" opacity="0.70"/>
<rect x="780.3" y="832.5" width="2.1" height="1.0" fill="#8a92a2" opacity="0.70"/>
<rect x="784.5" y="832.5" width="2.1" height="1.0" fill="#8a92a2" opacity="0.70"/>
<rect x="788.6" y="832.5" width="2.1" height="1.0" fill="#8a92a2" opacity="0.70"/>
<rect x="792.7" y="832.5" width="2.1" height="1.0" fill="#8a92a2" opacity="0.70"/>
<rect x="796.9" y="832.5" width="2.1" height="1.0" fill="#8a92a2" opacity="0.70"/>
<rect x="801.0" y="832.5" width="2.1" height="1.0" fill="#8a92a2" opacity="0.70"/>
<rect x="805.1" y="832.5" width="2.1" height="1.0" fill="#8a92a2" opacity="0.70"/>
<rect x="809.3" y="832.5" width="2.1" height="1.0" fill="#8a92a2" opacity="0.70"/>
<rect x="813.4" y="832.5" width="2.1" height="1.0" fill="#8a92a2" opacity="0.70"/>
<rect x="817.5" y="832.5" width="2.1" height="1.0" fill="#8a92a2" opacity="0.70"/>
<rect x="821.7" y="832.5" width="2.1" height="1.0" fill="#8a92a2" opacity="0.70"/>
<rect x="825.8" y="832.5" width="2.1" height="1.0" fill="#8a92a2" opacity="0.70"/>
<rect x="829.9" y="832.5" width="2.1" height="1.0" fill="#8a92a2" opacity="0.70"/>
<rect x="834.1" y="832.5" width="2.1" height="1.0" fill="#8a92a2" opacity="0.70"/>
<rect x="838.2" y="832.5" width="2.1" height="1.0" fill="#8a92a2" opacity="0.70"/>
<rect x="842.3" y="832.5" width="2.1" height="1.0" fill="#8a92a2" opacity="0.70"/>
<rect x="846.4" y="832.5" width="2.1" height="1.0" fill="#8a92a2" opacity="0.70"/>
<rect x="850.6" y="832.5" width="2.1" height="1.0" fill="#8a92a2" opacity="0.70"/>
<rect x="854.7" y="832.5" width="2.1" height="1.0" fill="#8a92a2" opacity="0.70"/>
<rect x="858.8" y="832.5" width="2.1" height="1.0" fill="#8a92a2" opacity="0.70"/>
<rect x="762.6" y="835.0" width="2.1" height="2.0" fill="#c8ced6" opacity="0.85"/>
<rect x="766.8" y="835.0" width="2.1" height="2.0" fill="#c8ced6" opacity="0.85"/>
<rect x="771.0" y="835.0" width="2.1" height="2.0" fill="#c8ced6" opacity="0.85"/>
<rect x="775.3" y="835.0" width="2.1" height="2.0" fill="#c8ced6" opacity="0.85"/>
<rect x="779.5" y="835.0" width="2.1" height="2.0" fill="#c8ced6" opacity="0.85"/>
<rect x="783.7" y="835.0" width="2.1" height="2.0" fill="#c8ced6" opacity="0.85"/>
<rect x="788.0" y="835.0" width="2.1" height="2.0" fill="#c8ced6" opacity="0.85"/>
<rect x="792.2" y="835.0" width="2.1" height="2.0" fill="#c8ced6" opacity="0.85"/>
<rect x="796.4" y="835.0" width="2.1" height="2.0" fill="#c8ced6" opacity="0.85"/>
<rect x="800.7" y="835.0" width="2.1" height="2.0" fill="#c8ced6" opacity="0.85"/>
<rect x="804.9" y="835.0" width="2.1" height="2.0" fill="#c8ced6" opacity="0.85"/>
<rect x="809.1" y="835.0" width="2.1" height="2.0" fill="#c8ced6" opacity="0.85"/>
<rect x="813.4" y="835.0" width="2.1" height="2.0" fill="#c8ced6" opacity="0.85"/>
<rect x="817.6" y="835.0" width="2.1" height="2.0" fill="#c8ced6" opacity="0.85"/>
<rect x="821.8" y="835.0" width="2.1" height="2.0" fill="#c8ced6" opacity="0.85"/>
<rect x="826.1" y="835.0" width="2.1" height="2.0" fill="#c8ced6" opacity="0.85"/>
<rect x="830.3" y="835.0" width="2.1" height="2.0" fill="#c8ced6" opacity="0.85"/>
<rect x="834.6" y="835.0" width="2.1" height="2.0" fill="#c8ced6" opacity="0.85"/>
<rect x="838.8" y="835.0" width="2.1" height="2.0" fill="#c8ced6" opacity="0.85"/>
<rect x="843.0" y="835.0" width="2.1" height="2.0" fill="#c8ced6" opacity="0.85"/>
<rect x="847.3" y="835.0" width="2.1" height="2.0" fill="#c8ced6" opacity="0.85"/>
<rect x="851.5" y="835.0" width="2.1" height="2.0" fill="#c8ced6" opacity="0.85"/>
<rect x="855.7" y="835.0" width="2.1" height="2.0" fill="#c8ced6" opacity="0.85"/>
<rect x="860.0" y="835.0" width="2.1" height="2.0" fill="#c8ced6" opacity="0.85"/>
<path d="M849,806 L860,806 L873,834 L859,834 Z" fill="#2c3242"/>
<rect x="853" y="811" width="3" height="6" fill="#d8dde4"/>
<rect x="863" y="829" width="2.5" height="2.5" fill="#c04040"/><rect x="868" y="833" width="2.5" height="2.5" fill="#d0c060"/>
<rect x="758" y="838.5" width="119" height="2.6" fill="#d8dce2"/>
<path d="M756,841.5 L879,841.5 L879.5,846 Q879,848 876,848 L758,848 Q755.5,848 756,846 Z" fill="#121317"/>
</g><text class="t" x="430" y="35" textLength="498" lengthAdjust="spacingAndGlyphs">Console Game Live Application</text>
<text class="t" x="448" y="525" textLength="499" lengthAdjust="spacingAndGlyphs">Video Camera Live Application</text>
<rect x="0" y="471" width="1024" height="3" fill="#4a5570"/>
<g class="l">
<text x="77" y="210.5" textLength="126" lengthAdjust="spacingAndGlyphs">Cosole Game</text>
<text x="263.5" y="183.6" textLength="111.5" lengthAdjust="spacingAndGlyphs">HDMI Input</text>
<text x="100.6" y="415" textLength="72.4" lengthAdjust="spacingAndGlyphs">Monitor</text>
<text x="293.9" y="337.8" textLength="126.3" lengthAdjust="spacingAndGlyphs">HDMI Output</text>
<text x="552.3" y="119.6" textLength="77.9" lengthAdjust="spacingAndGlyphs">USB 3.0</text>
<text x="661.3" y="201.9" textLength="138.1" lengthAdjust="spacingAndGlyphs">Live Computer</text>
<text x="861.7" y="186.8" textLength="84" lengthAdjust="spacingAndGlyphs">APP with</text>
<text x="834.3" y="209" textLength="140.2" lengthAdjust="spacingAndGlyphs">Android phone</text>
<text x="847.9" y="287.5" textLength="110.4" lengthAdjust="spacingAndGlyphs">Microphone</text>
<text x="801.4" y="308.1" textLength="202.6" lengthAdjust="spacingAndGlyphs">(Game Commentary)</text>
<text x="796.9" y="388.5" textLength="215.3" lengthAdjust="spacingAndGlyphs">Headphone Monitoring</text>
<text x="813.3" y="408.8" textLength="181" lengthAdjust="spacingAndGlyphs">(Game Monitoring)</text>
<text x="60.7" y="697.8" textLength="133" lengthAdjust="spacingAndGlyphs">Video Camera</text>
<text x="222.5" y="697.8" textLength="112.1" lengthAdjust="spacingAndGlyphs">HDMI Input</text>
<text x="538.7" y="591.4" textLength="76.7" lengthAdjust="spacingAndGlyphs">USB 3.0</text>
<text x="641" y="675.7" textLength="139.6" lengthAdjust="spacingAndGlyphs">Live Computer</text>
<text x="846.2" y="672.6" textLength="85.5" lengthAdjust="spacingAndGlyphs">APP with</text>
<text x="820.3" y="692.4" textLength="137.7" lengthAdjust="spacingAndGlyphs">Android phone</text>
<text x="104.4" y="932.5" textLength="72" lengthAdjust="spacingAndGlyphs">Monitor</text>
<text x="304.3" y="858" textLength="125.7" lengthAdjust="spacingAndGlyphs">HDMI Output</text>
<text x="886" y="827" textLength="53.2" lengthAdjust="spacingAndGlyphs">Mixer</text>
<text x="800.2" y="935.9" textLength="215.4" lengthAdjust="spacingAndGlyphs">Headphone Monitoring</text>
<text x="817.1" y="957.2" textLength="180.5" lengthAdjust="spacingAndGlyphs">(Game Monitoring)</text>
</g>
</svg>
</body></html>
